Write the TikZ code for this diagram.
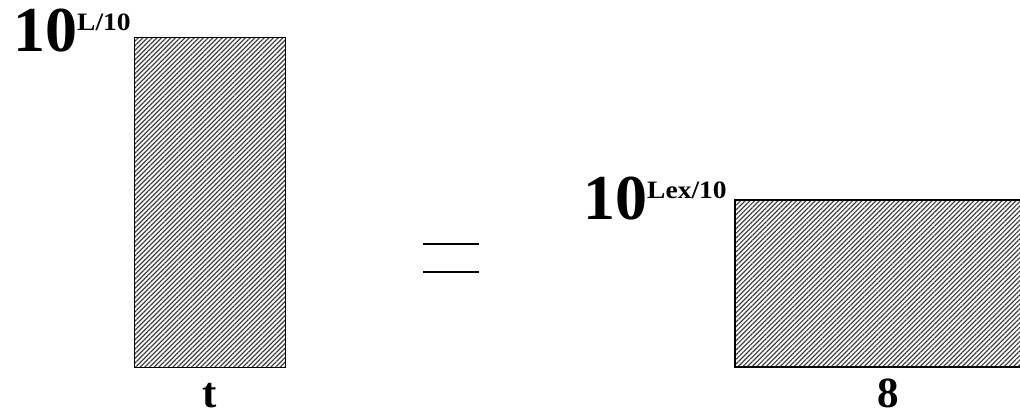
\documentclass[tikz,border=0pt]{standalone}
\usepackage{fontspec}
\setmainfont{Liberation Serif}
\usetikzlibrary{patterns.meta}
\tikzset{
 hatchbox/.style={draw,line width=1.5pt,pattern={Lines[angle=45,distance=3.3pt,line width=1.2pt]},pattern color=black!75,inner sep=0,anchor=south west},
 eqline/.style={line width=2.6pt},
 powerlabel/.style={inner sep=0,anchor=base west,font=\bfseries},
 axislabel/.style={inner sep=0,anchor=base,font=\bfseries\fontsize{43}{45}\selectfont}
}
\newcommand{\powten}[1]{{\fontsize{64}{66}\selectfont 10}\raisebox{21pt}{\scalebox{1.1}[1]{\fontsize{25}{27}\selectfont #1}}}

\begin{document}
\begin{tikzpicture}[x=1pt,y=1pt]
\path[use as bounding box] (0,0) rectangle (1020,414);
% left box: level L over time t
\node[hatchbox,minimum width=151pt,minimum height=330pt] (tbox) at (134,46) {};
\node[powerlabel] (lpow) at (13,362) {\powten{L/10}};
\node[axislabel] (tlab) at (210,6) {t};
% equals sign
\coordinate (e1) at (423,170);
\coordinate (e2) at (479,170);
\coordinate (e3) at (423,142);
\coordinate (e4) at (479,142);
\draw[eqline] (e1) -- (e2);
\draw[eqline] (e3) -- (e4);
% right box: level Lex over 8 hours
\node[hatchbox,minimum width=290pt,minimum height=167pt] (hbox) at (734,46) {};
\node[powerlabel] (lexpow) at (583,194) {\powten{Lex/10}};
\node[axislabel] (hlab) at (888,6) {8};
\end{tikzpicture}
\end{document}
